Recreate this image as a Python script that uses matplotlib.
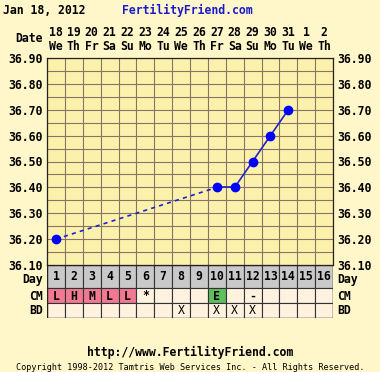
import numpy as np
import matplotlib
matplotlib.use("Agg")
import matplotlib.pyplot as plt
from matplotlib.patches import Rectangle

# ---- chart data ----
cycle_days = list(range(1, 17))
dates = ["18", "19", "20", "21", "22", "23", "24", "25", "26", "27", "28", "29", "30", "31", "1", "2"]
weekdays = ["We", "Th", "Fr", "Sa", "Su", "Mo", "Tu", "We", "Th", "Fr", "Sa", "Su", "Mo", "Tu", "We", "Th"]
temp_days = [1, 10, 11, 12, 13, 14]
temps = [36.20, 36.40, 36.40, 36.50, 36.60, 36.70]
cm_labels = ["L", "H", "M", "L", "L", "*", "", "", "", "E", "", "-", "", "", "", ""]
bd_marks = ["", "", "", "", "", "", "", "X", "", "X", "X", "X", "", "", "", ""]
y_ticks = [36.90, 36.80, 36.70, 36.60, 36.50, 36.40, 36.30, 36.20, 36.10]

W, H = 380, 372
BG = "#fff7c9"
PLOT_BG = "#fcf1aa"
GRID = "#857566"
FONT = "DejaVu Sans Mono"
FS = 8.3

cm_colors = {"L": "#f17a92", "H": "#f17a92", "M": "#f17a92", "E": "#5fbf5f"}

fig = plt.figure(figsize=(W / 100, H / 100), dpi=100, facecolor=BG)

def fx(px):
    return px / W

def fy(py):
    return 1 - py / H

left, right = 47, 333
top, bottom = 58, 265

# ---- temperature chart ----
ax = fig.add_axes([fx(left), fy(bottom), fx(right - left), (bottom - top) / H])
ax.set_facecolor(PLOT_BG)
ax.set_xlim(0.5, 16.5)
ax.set_ylim(36.10, 36.90)
for x in np.arange(0.5, 17, 1.0):
    ax.axvline(x, color=GRID, lw=0.8, zorder=1)
for y in np.arange(36.10, 36.91, 0.05):
    ax.axhline(y, color=GRID, lw=0.8, zorder=1)
ax.set_xticks([])
ax.set_yticks(y_ticks)
ax.set_yticklabels([f"{t:.2f}" for t in y_ticks], fontfamily=FONT, fontweight="bold", fontsize=FS)
ax.tick_params(axis="y", length=0, pad=3, labelright=True, right=False)
for s in ax.spines.values():
    s.set_color("#222222")
    s.set_linewidth(0.9)

# connect points: dashed across missing days, solid between consecutive days
for i in range(len(temp_days) - 1):
    style = "-" if temp_days[i + 1] - temp_days[i] == 1 else (0, (2.5, 2.5))
    ax.plot(temp_days[i:i + 2], temps[i:i + 2], color="#2222c8", lw=1.2, ls=style, zorder=2)
ax.plot(temp_days, temps, "o", color="#0000ff", ms=6, zorder=3)

# ---- day / CM / BD table ----
tab = fig.add_axes([fx(left), fy(318), fx(right - left), (318 - bottom) / H])
tab.set_xlim(0.5, 16.5)
tab.set_ylim(53, 0)
tab.axis("off")
for d in cycle_days:
    tab.add_patch(Rectangle((d - 0.5, 0), 1, 23, fc="#c9c9c9", ec="#333333", lw=0.8))
    tab.text(d, 12, str(d), ha="center", va="center", fontfamily=FONT, fontweight="bold", fontsize=FS)
    cm = cm_labels[d - 1]
    tab.add_patch(Rectangle((d - 0.5, 23), 1, 15, fc=cm_colors.get(cm, "#fff2df"), ec="#333333", lw=0.8))
    tab.text(d, 31, cm, ha="center", va="center", fontfamily=FONT, fontweight="bold", fontsize=FS)
    tab.add_patch(Rectangle((d - 0.5, 38), 1, 15, fc="#fff2df", ec="#333333", lw=0.8))
    tab.text(d, 46, bd_marks[d - 1], ha="center", va="center", fontfamily=FONT, fontsize=FS)
tab.add_patch(Rectangle((0.5, 0), 16, 53, fc="none", ec="#222222", lw=1.0))

for label, py in [("Day", 279), ("CM", 296), ("BD", 311)]:
    fig.text(fx(43), fy(py), label, ha="right", va="center", fontfamily=FONT, fontweight="bold", fontsize=FS)
    fig.text(fx(337), fy(py), label, ha="left", va="center", fontfamily=FONT, fontweight="bold", fontsize=FS)

# ---- header ----
col_w = (right - left) / 16
for i, (d, wd) in enumerate(zip(dates, weekdays)):
    cx = left + col_w * (i + 0.5)
    fig.text(fx(cx), fy(33), d, ha="center", va="center", fontfamily=FONT, fontweight="bold", fontsize=FS)
    fig.text(fx(cx), fy(46), wd, ha="center", va="center", fontfamily=FONT, fontweight="bold", fontsize=FS)
fig.text(fx(43), fy(39), "Date", ha="right", va="center", fontfamily=FONT, fontweight="bold", fontsize=FS)

fig.text(fx(3), fy(10), "Jan 18, 2012", ha="left", va="center", fontfamily=FONT, fontweight="bold", fontsize=FS)
fig.text(fx(122), fy(10), "FertilityFriend.com", ha="left", va="center", fontfamily=FONT,
         fontweight="bold", fontsize=FS, color="#1a1acc")

# ---- footer ----
fig.text(0.5, fy(352), "http://www.FertilityFriend.com", ha="center", va="center", fontfamily=FONT,
         fontweight="bold", fontsize=FS)
fig.text(0.5, fy(367), "Copyright 1998-2012 Tamtris Web Services Inc. - All Rights Reserved.",
         ha="center", va="center", fontfamily=FONT, fontsize=6.1)

fig.savefig("out.png", dpi=100, facecolor=BG)
